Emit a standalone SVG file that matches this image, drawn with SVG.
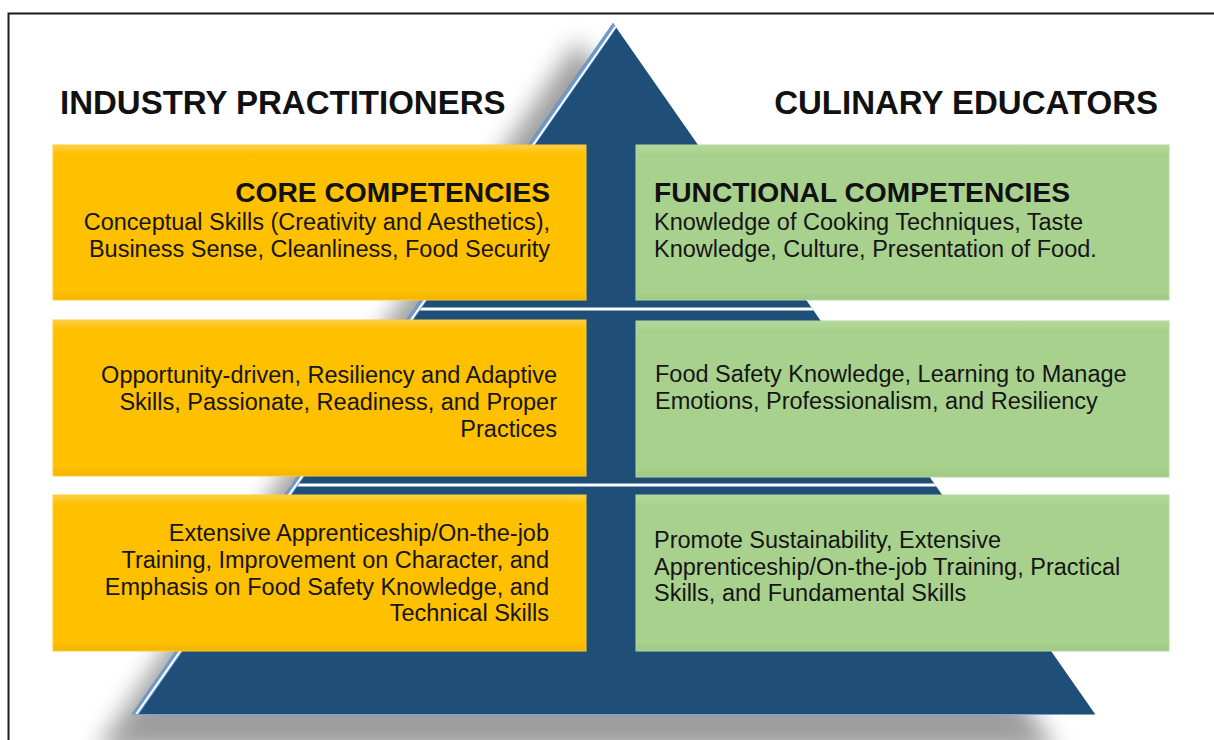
<svg xmlns="http://www.w3.org/2000/svg" width="1214" height="740" viewBox="0 0 1214 740">
  <defs>
    <filter id="shadowBlur" x="-20%" y="-20%" width="140%" height="140%">
      <feGaussianBlur stdDeviation="12"/>
    </filter>
    <linearGradient id="bevelO" x1="0" y1="0" x2="0" y2="1">
      <stop offset="0" stop-color="#FFD04A"/>
      <stop offset="0.06" stop-color="#FFC000"/>
      <stop offset="0.94" stop-color="#FFC000"/>
      <stop offset="1" stop-color="#F2B500"/>
    </linearGradient>
    <linearGradient id="bevelG" x1="0" y1="0" x2="0" y2="1">
      <stop offset="0" stop-color="#B4D99A"/>
      <stop offset="0.06" stop-color="#A9D18E"/>
      <stop offset="0.94" stop-color="#A9D18E"/>
      <stop offset="1" stop-color="#A0C986"/>
    </linearGradient>
    <clipPath id="pyrClip">
      <polygon points="613,23 132,714 1095,714"/>
    </clipPath>
  </defs>
  <style>
    .hdr { font-family: "Liberation Sans", Arial, sans-serif; font-weight: bold; font-size: 33px; fill: #111; }
    .ttl { font-family: "Liberation Sans", Arial, sans-serif; font-weight: bold; font-size: 28.2px; fill: #111; }
    .body { font-family: "Liberation Sans", Arial, sans-serif; font-size: 23.5px; fill: #151515; }
    .end { text-anchor: end; }
    .boxO { fill: url(#bevelO); stroke: #FFCB2E; stroke-width: 1; }
    .boxG { fill: url(#bevelG); stroke: #B2D79A; stroke-width: 1; }
  </style>

  <rect width="1214" height="740" fill="#FFFFFF"/>
  <rect x="8.5" y="13.5" width="1230" height="760" fill="none" stroke="#1A1A1A" stroke-width="2"/>

  <g id="pyramid">
    <polygon points="578,40 96,752 1058,752" fill="#000" opacity="0.38" filter="url(#shadowBlur)"/>
    <polygon points="613,23 132,714 1095,714" fill="#1F4E79"/>
    <g clip-path="url(#pyrClip)">
      <line x1="100" y1="309" x2="1120" y2="309" stroke="#FFFFFF" stroke-width="3"/>
      <line x1="100" y1="485" x2="1120" y2="485" stroke="#FFFFFF" stroke-width="3"/>
      <line x1="615" y1="24" x2="134" y2="715" stroke="#6E9CCB" stroke-width="7"/>
      <line x1="616" y1="26" x2="135" y2="716" stroke="#FFFFFF" stroke-width="2"/>
    </g>
    <line x1="132" y1="714.5" x2="1095" y2="714.5" stroke="#7FA3C8" stroke-width="1"/>
  </g>

  <g id="header-industry">
    <text class="hdr" x="60" y="114">INDUSTRY PRACTITIONERS</text>
  </g>
  <g id="header-culinary">
    <text class="hdr" x="1158" y="114" text-anchor="end">CULINARY EDUCATORS</text>
  </g>

  <g id="core-competencies">
    <rect class="boxO" x="53" y="145" width="533" height="155"/>
    <text class="ttl end" x="550" y="202">CORE COMPETENCIES</text>
    <text class="body end" x="550" y="230">Conceptual Skills (Creativity and Aesthetics),</text>
    <text class="body end" x="550" y="257">Business Sense, Cleanliness, Food Security</text>
  </g>

  <g id="functional-competencies">
    <rect class="boxG" x="636" y="145" width="533" height="155"/>
    <text class="ttl" x="654" y="202">FUNCTIONAL COMPETENCIES</text>
    <text class="body" x="654" y="230">Knowledge of Cooking Techniques, Taste</text>
    <text class="body" x="654" y="257">Knowledge, Culture, Presentation of Food.</text>
  </g>

  <g id="industry-middle">
    <rect class="boxO" x="53" y="320" width="533" height="156"/>
    <text class="body end" x="557" y="383">Opportunity-driven, Resiliency and Adaptive</text>
    <text class="body end" x="557" y="410">Skills, Passionate, Readiness, and Proper</text>
    <text class="body end" x="557" y="437">Practices</text>
  </g>

  <g id="culinary-middle">
    <rect class="boxG" x="636" y="321" width="533" height="156"/>
    <text class="body" x="655" y="382">Food Safety Knowledge, Learning to Manage</text>
    <text class="body" x="655" y="409">Emotions, Professionalism, and Resiliency</text>
  </g>

  <g id="industry-bottom">
    <rect class="boxO" x="53" y="495" width="533" height="156"/>
    <text class="body end" x="549" y="541">Extensive Apprenticeship/On-the-job</text>
    <text class="body end" x="549" y="568">Training, Improvement on Character, and</text>
    <text class="body end" x="549" y="595">Emphasis on Food Safety Knowledge, and</text>
    <text class="body end" x="549" y="621">Technical Skills</text>
  </g>

  <g id="culinary-bottom">
    <rect class="boxG" x="636" y="495" width="533" height="156"/>
    <text class="body" x="654" y="548">Promote Sustainability, Extensive</text>
    <text class="body" x="654" y="575">Apprenticeship/On-the-job Training, Practical</text>
    <text class="body" x="654" y="601">Skills, and Fundamental Skills</text>
  </g>
</svg>
